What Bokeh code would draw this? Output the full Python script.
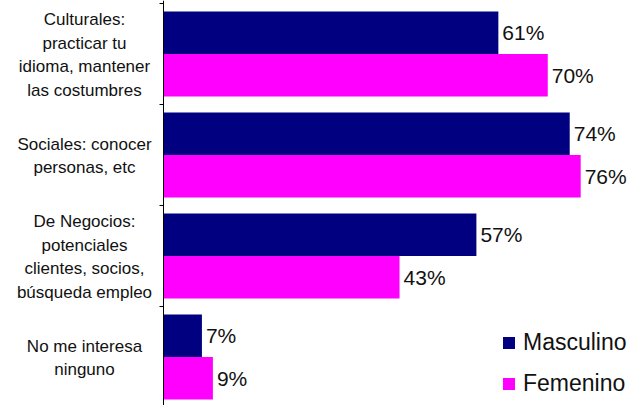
from bokeh.plotting import figure
from bokeh.models import (ColumnDataSource, Range1d, FixedTicker, LabelSet,
                          Legend, LegendItem)
from bokeh.core.properties import value
from bokeh.embed import file_html
from bokeh.resources import INLINE

categories = [
    "Culturales:\npracticar tu\nidioma, mantener\nlas costumbres",
    "Sociales: conocer\npersonas, etc",
    "De Negocios:\npotenciales\nclientes, socios,\nbúsqueda empleo",
    "No me interesa\nninguno",
]
masculino = [61, 74, 57, 7]
femenino = [70, 76, 43, 9]
series_names = ["Masculino", "Femenino"]
colors = ["#000080", "#FF00FF"]

FONT = "Liberation Sans"
n = len(categories)
bar_h = 0.42

src_m = ColumnDataSource(dict(
    y=[i + 0.29 for i in range(n)], v=masculino, t=[f"{v}%" for v in masculino]))
src_f = ColumnDataSource(dict(
    y=[i + 0.71 for i in range(n)], v=femenino, t=[f"{v}%" for v in femenino]))
src_c = ColumnDataSource(dict(
    x=[0] * n, y=[i + 0.5 for i in range(n)], t=categories))

p = figure(width=634, height=405, output_backend="svg", toolbar_location=None,
           x_range=Range1d(-29.69, 85.8), y_range=Range1d(3.98, -0.03),
           min_border_left=0, min_border_right=0, min_border_top=0,
           min_border_bottom=0)
p.outline_line_color = None
p.xgrid.visible = False
p.ygrid.visible = False
p.xaxis.visible = False
p.background_fill_color = "white"
p.border_fill_color = "white"

ya = p.yaxis[0]
ya.fixed_location = 0
ya.ticker = FixedTicker(ticks=list(range(n + 1)))
ya.major_label_overrides = {i: "" for i in range(n + 1)}
ya.major_label_text_font_size = "1px"
ya.major_label_standoff = 0
ya.major_tick_in = 0
ya.major_tick_out = 4
ya.minor_tick_in = 0
ya.minor_tick_out = 0
ya.axis_line_color = "#000000"
ya.major_tick_line_color = "#000000"
ya.axis_line_width = 1

r_m = p.hbar(y="y", right="v", left=0, height=bar_h, source=src_m,
             fill_color=colors[0], line_color=None)
r_f = p.hbar(y="y", right="v", left=0, height=bar_h, source=src_f,
             fill_color=colors[1], line_color=None)

p.text(x="x", y="y", text="t", source=src_c, x_offset=-79, y_offset=1,
       text_align="center", text_baseline="middle",
       text_font=value(FONT), text_font_size=value("17px"),
       text_line_height=1.25, text_color="#111111")

for src in (src_m, src_f):
    p.add_layout(LabelSet(x="v", y="y", text="t", source=src, x_offset=4,
                          text_baseline="middle", text_align="left",
                          text_font=value(FONT), text_font_size=value("21px"),
                          text_color="#111111"))

legend = Legend(items=[LegendItem(label=series_names[0], renderers=[r_m]),
                       LegendItem(label=series_names[1], renderers=[r_f])],
                location=(501, 8), glyph_width=15, glyph_height=15,
                label_text_font=FONT, label_text_font_size="23px",
                label_text_color="#111111", label_standoff=7, spacing=14,
                padding=0, margin=0, border_line_color=None,
                background_fill_alpha=0)
p.add_layout(legend)

open("out.html", "w").write(file_html(p, INLINE))
